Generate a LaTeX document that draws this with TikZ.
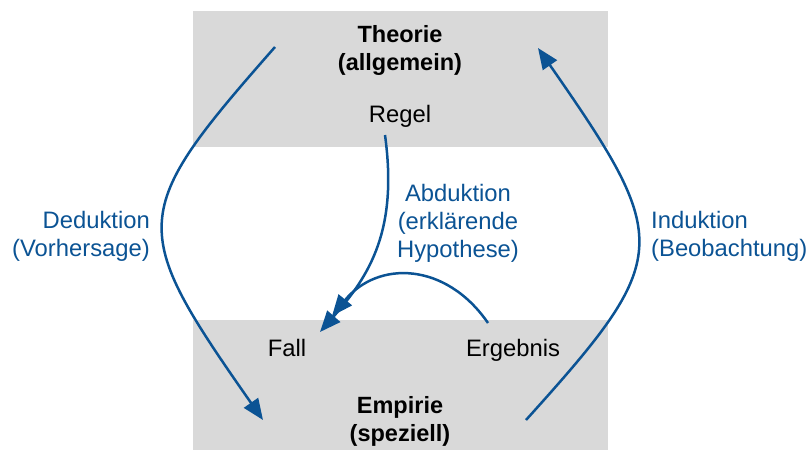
\documentclass[tikz,border=0pt]{standalone}
\usepackage{fontspec}
\setmainfont{Liberation Sans}
\usetikzlibrary{arrows.meta}
\definecolor{arrowblue}{HTML}{0B5394}
\definecolor{boxgray}{HTML}{D9D9D9}
\tikzset{
  txt/.style={inner sep=0pt, font=\fontsize{23.8}{28}\selectfont, text=black},
  bluetxt/.style={txt, text=arrowblue},
  boldtxt/.style={txt, font=\fontsize{23.5}{28}\selectfont\bfseries, align=center},
  flow/.style={draw=arrowblue, line width=2.5pt, -{Triangle[length=21pt,width=17pt]}},
  panel/.style={fill=boxgray, draw=none}
}
\begin{document}
\begin{tikzpicture}[x=1pt,y=-1pt]
\useasboundingbox (0,0) rectangle (807,450);
% panels
\path[panel] (193,11) rectangle (608,147);
\path[panel] (193,320) rectangle (608,450);
% texts
\node[boldtxt] (theorie) at (400,50) {Theorie\\(allgemein)};
\node[txt, anchor=base] (regel) at (400,122) {Regel};
\node[txt, anchor=base] (fall) at (287,356) {Fall};
\node[txt, anchor=base] (ergebnis) at (513,356) {Ergebnis};
\node[boldtxt] (empirie) at (400,421) {Empirie\\(speziell)};
\node[bluetxt, anchor=east, align=right] (deduktion) at (150,236.5) {Deduktion\\(Vorhersage)};
\node[bluetxt, align=center] (abduktion) at (458,223.5) {Abduktion\\(erklärende\\Hypothese)};
\node[bluetxt, anchor=west, align=left] (induktion) at (651,236.5) {Induktion\\(Beobachtung)};
% connector ends
\coordinate (dedA) at (275,47);
\coordinate (dedB) at (263,420);
\coordinate (indA) at (526,420);
\coordinate (indB) at (538,48);
\coordinate (regA) at (385,135);
\coordinate (fallTipA) at (320,332);
\coordinate (ergA) at (488,323);
\coordinate (fallTipB) at (332,316);
% arrows
\draw[flow] (dedA) .. controls (128,214) and (128,227) .. (dedB);
\draw[flow] (indA) .. controls (673,257) and (673,242) .. (indB);
\draw[flow] (regA) .. controls (398,230) and (370,275) .. (fallTipA);
\draw[flow] (ergA) .. controls (446,262) and (378,260) .. (fallTipB);
\end{tikzpicture}
\end{document}
